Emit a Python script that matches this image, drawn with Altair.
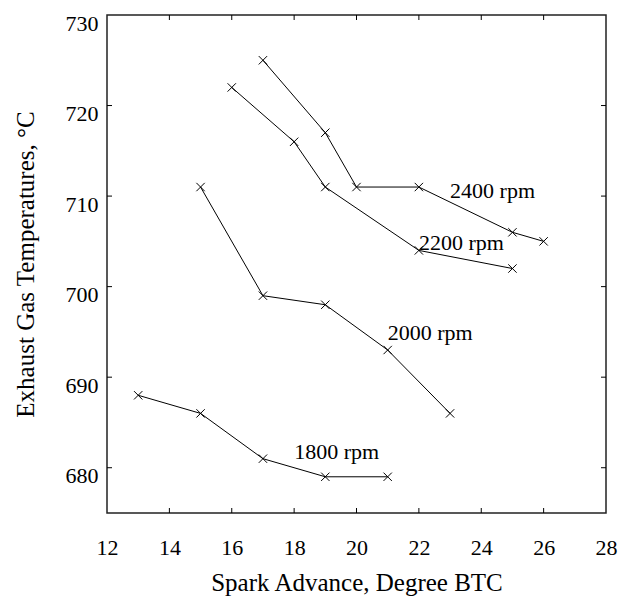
import altair as alt
import pandas as pd

# Data
x_1800 = [13, 15, 17, 19, 21]
y_1800 = [688, 686, 681, 679, 679]
x_2000 = [15, 17, 19, 21, 23]
y_2000 = [711, 699, 698, 693, 686]
x_2200 = [16, 18, 19, 22, 25]
y_2200 = [722, 716, 711, 704, 702]
x_2400 = [17, 19, 20, 22, 25, 26]
y_2400 = [725, 717, 711, 711, 706, 705]

label_text = ["2400 rpm", "2200 rpm", "2000 rpm", "1800 rpm"]
label_x = [23.0, 22.0, 21.0, 18.0]
label_y = [709.8, 704.0, 694.1, 681.0]

x_ticks = [12, 14, 16, 18, 20, 22, 24, 26, 28]
y_ticks = [680, 690, 700, 710, 720, 730]
x_inner_ticks = [14, 16, 18, 20, 22, 24, 26]
y_inner_ticks = [680, 690, 700, 710, 720]

rows = []
for name, xs, ys in [("1800", x_1800, y_1800), ("2000", x_2000, y_2000),
                     ("2200", x_2200, y_2200), ("2400", x_2400, y_2400)]:
    for i, (xv, yv) in enumerate(zip(xs, ys)):
        rows.append({"series": name, "order": i, "x": xv, "y": yv})
df = pd.DataFrame(rows)
labels_df = pd.DataFrame({"text": label_text, "x": label_x, "y": label_y})
xt_df = pd.DataFrame({"x": x_inner_ticks})
yt_df = pd.DataFrame({"y": y_inner_ticks})

W, H = 499, 498
FONT = "'Liberation Serif', 'Times New Roman', 'DejaVu Serif', serif"

xscale = alt.Scale(domain=[12, 28], nice=False, zero=False)
yscale = alt.Scale(domain=[675, 730], nice=False, zero=False)

xaxis = alt.Axis(values=x_ticks, format="d", grid=False, ticks=False, domain=False,
                 labelFont=FONT, labelFontSize=22, labelColor="black", labelPadding=24,
                 labelFlush=False, labelOverlap=False,
                 title="Spark Advance, Degree BTC", titleFont=FONT, titleFontSize=25,
                 titleFontWeight="normal", titleColor="black",
                 titleY=77, titleBaseline="alphabetic")
yaxis = alt.Axis(values=y_ticks, format="d", grid=False, ticks=False, domain=False,
                 labelFont=FONT, labelFontSize=22, labelColor="black", labelPadding=9,
                 labelFlush=False, labelOverlap=False, labelBaseline="top", labelOffset=-2,
                 title="Exhaust Gas Temperatures, °C", titleFont=FONT, titleFontSize=25,
                 titleFontWeight="normal", titleColor="black",
                 titleX=-74, titleBaseline="alphabetic")

X = lambda: alt.X("x:Q", scale=xscale, axis=xaxis)
Y = lambda: alt.Y("y:Q", scale=yscale, axis=yaxis)

base = alt.Chart(df)
lines = base.mark_line(color="black", strokeWidth=1).encode(
    x=X(), y=Y(), detail="series:N", order="order:Q",
)
points = base.mark_point(shape="M-1,-1L1,1M-1,1L1,-1", size=70, color="black",
                         filled=False, strokeWidth=1, opacity=1).encode(x=X(), y=Y())
texts = alt.Chart(labels_df).mark_text(align="left", baseline="alphabetic", font=FONT,
                                       fontSize=22, color="black").encode(
    x=X(), y=Y(), text="text:N",
)

tick_len = 5
bottom_ticks = alt.Chart(xt_df).mark_rule(color="black", strokeWidth=1).encode(
    x=X(), y=alt.value(H), y2=alt.value(H - tick_len))
top_ticks = alt.Chart(xt_df).mark_rule(color="black", strokeWidth=1).encode(
    x=X(), y=alt.value(0), y2=alt.value(tick_len))
left_ticks = alt.Chart(yt_df).mark_rule(color="black", strokeWidth=1).encode(
    y=Y(), x=alt.value(0), x2=alt.value(tick_len))
right_ticks = alt.Chart(yt_df).mark_rule(color="black", strokeWidth=1).encode(
    y=Y(), x=alt.value(W), x2=alt.value(W - tick_len))

chart = alt.layer(lines, points, texts, bottom_ticks, top_ticks, left_ticks, right_ticks).properties(
    width=W, height=H,
    autosize=alt.AutoSizeParams(type="none"),
    padding={"left": 107, "top": 15, "right": 13, "bottom": 85},
    background="white",
).configure_view(stroke="#222222", strokeWidth=1.5)

chart.save("out.html", embed_options={"renderer": "svg", "actions": False})
